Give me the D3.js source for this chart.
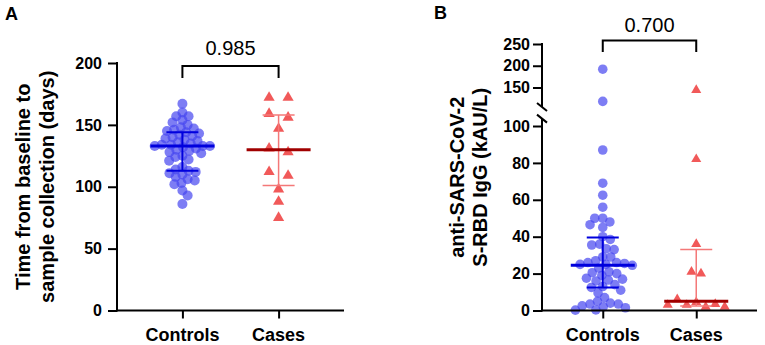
<!DOCTYPE html>
<html>
<head>
<meta charset="utf-8">
<script src="https://cdn.jsdelivr.net/npm/d3@7/dist/d3.min.js"></script>
<style>
  body { margin: 0; background: #fff; }
  text { font-family: Arial, "Liberation Sans", sans-serif; }
</style>
</head>
<body>
<svg id="chart" width="765" height="345"></svg>
<script>
// groups shared by both panels
const groups = ["Controls", "Cases"];

// panel A : time from baseline to sample collection (days)
const timeControls = [167, 160, 157, 157, 154, 152, 150, 148, 147, 146, 145, 144, 143, 142, 141,
    140, 139, 138, 137, 136, 135, 134, 134, 133, 133, 133, 132, 131, 130, 129, 128, 127, 125,
    124, 122, 121, 116, 114, 113, 112, 111, 110, 108, 106, 105, 103, 102, 97, 93, 86];
const timeCases = [172, 172, 159, 156, 147, 131, 128, 112, 109, 98, 88, 75];
const timeMedian = [133, 130];
const timeQ1 = [113, 101];
const timeQ3 = [144, 158];
const timeTicks = [0, 50, 100, 150, 200];

// panel B : anti-SARS-CoV-2 S-RBD IgG (kAU/L)
const iggControls = [192, 118, 87, 69, 62.5, 56, 50, 50, 48, 46.5, 45, 40, 38.5, 36, 35.5,
    33.5, 33, 29, 29, 27, 26, 26, 25.5, 25, 25, 24.5, 23, 21, 20.5, 20, 19, 17.5, 17, 16.5,
    16, 14, 13, 12.5, 11, 9.5, 7, 5, 4, 3.5, 3.5, 2.5, 2, 1.5, 0.3, 0.2];
const iggCases = [144, 82, 36, 21, 20, 3, 6, 3, 4.5, 2, 3.5, 2];
const iggMedian = [24.5, 5];
const iggQ1 = [12.5, 2.5];
const iggQ3 = [39.5, 33];
const iggTicksLow = [0, 20, 40, 60, 80, 100];
const iggTicksHigh = [150, 200, 250];

const pValues = ["0.985", "0.700"];

const svg = d3.select("#chart");
const fontBold = "bold";
const ctrlFill = "#4646ef", caseFill = "#ee3030";
const ctrlLine = "#0000dd", caseMedLine = "#a00000", caseBar = "#f47878";

// simple beeswarm : returns x offsets for pixel y positions
function swarm(ys, gap) {
    const order = d3.range(ys.length).sort((a, b) => ys[a] - ys[b]);
    const placed = [];
    const off = new Array(ys.length);
    order.forEach((i, n) => {
        const y = ys[i];
        const near = placed.filter(p => Math.abs(p.y - y) < gap);
        let cand = [0];
        near.forEach(p => {
            const dx = Math.sqrt(gap * gap - (p.y - y) ** 2);
            cand.push(p.x + dx, p.x - dx);
        });
        const sgn = n % 2 ? 1 : -1;
        cand.sort((a, b) => (Math.abs(a) - Math.abs(b)) || (sgn * (a - b)));
        const x = cand.find(c => near.every(p => (p.x - c) ** 2 + (p.y - y) ** 2 >= gap * gap - 0.01));
        off[i] = x;
        placed.push({ x: x, y: y });
    });
    return off;
}

// rows : points close in y are put side by side, centred
function rows(ys, h, step) {
    const off = new Array(ys.length).fill(0);
    const used = new Array(ys.length).fill(false);
    ys.forEach((y, i) => {
        if (used[i]) return;
        const row = [];
        ys.forEach((y2, j) => { if (!used[j] && Math.abs(y2 - y) <= h) row.push(j); });
        row.forEach((j, k) => { used[j] = true; off[j] = (k - (row.length - 1) / 2) * step; });
    });
    return off;
}

function drawSummary(g, x, y, med, q1, q3) {
    groups.forEach((grp, i) => {
        const cx = x(grp);
        const bar = i == 0 ? ctrlLine : caseBar;
        g.append("line").attr("x1", cx).attr("x2", cx).attr("y1", y(q1[i])).attr("y2", y(q3[i]))
            .attr("stroke", bar).attr("stroke-width", i == 0 ? 2 : 1.5);
        [q1[i], q3[i]].forEach(v => {
            g.append("line").attr("x1", cx - 16).attr("x2", cx + 16).attr("y1", y(v)).attr("y2", y(v))
                .attr("stroke", bar).attr("stroke-width", i == 0 ? 2 : 1.5);
        });
        g.append("line").attr("x1", cx - 32).attr("x2", cx + 32).attr("y1", y(med[i])).attr("y2", y(med[i]))
            .attr("stroke", i == 0 ? ctrlLine : caseMedLine).attr("stroke-width", 3);
    });
}

function drawPoints(g, x, y, ctrl, cases, rC, gap, triSize, caseStep) {
    const yc = ctrl.map(y);
    const xc = swarm(yc, gap);
    g.selectAll("circle").data(ctrl).enter().append("circle")
        .attr("cx", (d, i) => x("Controls") + xc[i])
        .attr("cy", (d, i) => yc[i])
        .attr("r", rC)
        .attr("fill", ctrlFill)
        .attr("fill-opacity", 0.7);
    const yk = cases.map(y);
    const xk = rows(yk, 8, caseStep);
    g.selectAll("path.tri").data(cases).enter().append("path")
        .attr("class", "tri")
        .attr("d", d3.symbol().type(d3.symbolTriangle).size(triSize))
        .attr("transform", (d, i) => `translate(${x("Cases") + xk[i]},${yk[i]})`)
        .attr("fill", caseFill)
        .attr("fill-opacity", 0.8);
}

function styleAxis(g) {
    g.select(".domain").remove();
    g.selectAll(".tick line").attr("stroke", "#000").attr("stroke-width", 2);
    g.selectAll(".tick text").attr("fill", "#000").style("font-size", "16px").style("font-weight", fontBold)
        .style("font-family", "Arial, 'Liberation Sans', sans-serif");
}

function bracket(x1, x2, yTop, yBot, label, yText) {
    svg.append("path")
        .attr("d", `M${x1},${yBot}V${yTop}H${x2}V${yBot}`)
        .attr("fill", "none").attr("stroke", "#000").attr("stroke-width", 2);
    svg.append("text").attr("x", (x1 + x2) / 2).attr("y", yText).attr("text-anchor", "middle")
        .style("font-size", "20px").text(label);
}

// ---------- Panel A ----------
const xA = d3.scalePoint().domain(groups).range([117, 344]).padding(0.68);
const yA = d3.scaleLinear().domain([0, 200]).range([310.5, 63]);

svg.append("text").attr("x", 5).attr("y", 20).style("font-size", "18px").style("font-weight", fontBold).text("A");

const gA = svg.append("g");
drawPoints(gA, xA, yA, timeControls, timeCases, 5, 7.2, 54, 19);
drawSummary(gA, xA, yA, timeMedian, timeQ1, timeQ3);

svg.append("g").attr("transform", "translate(117,0)")
    .call(d3.axisLeft(yA).tickValues(timeTicks).tickSize(9).tickPadding(6))
    .call(styleAxis);
svg.append("g").attr("transform", "translate(0,310.5)")
    .call(d3.axisBottom(xA).tickSize(8).tickPadding(4).tickFormat(() => ""))
    .call(styleAxis);
svg.append("line").attr("x1", 117).attr("x2", 117).attr("y1", yA(200) - 1).attr("y2", yA(0) + 1)
    .attr("stroke", "#000").attr("stroke-width", 2);
svg.append("line").attr("x1", 116).attr("x2", 344).attr("y1", yA(0)).attr("y2", yA(0))
    .attr("stroke", "#000").attr("stroke-width", 2);

groups.forEach(g => {
    svg.append("text").attr("x", xA(g)).attr("y", 341).attr("text-anchor", "middle")
        .style("font-size", "18px").style("font-weight", fontBold).text(g);
});

[["Time from baseline to", 29.5], ["sample collection (days)", 53.5]].forEach(([t, bx]) => {
    svg.append("text").attr("transform", `translate(${bx},${(yA(0) + yA(200)) / 2}) rotate(-90)`)
        .attr("text-anchor", "middle").style("font-size", "20px").style("font-weight", fontBold).text(t);
});

bracket(xA("Controls"), xA("Cases"), 66, 78, pValues[0], 55);

// ---------- Panel B ----------
const xB = d3.scalePoint().domain(groups).range([542, 757]).padding(0.65);
const yLow = d3.scaleLinear().domain([0, 100]).range([310.5, 126]);
const yHigh = d3.scaleLinear().domain([150, 250]).range([87.5, 44]);
const breakAt = 104;
const yB = v => v > breakAt ? yHigh(v) : yLow(v);

svg.append("text").attr("x", 434).attr("y", 19).style("font-size", "18px").style("font-weight", fontBold).text("B");

const gB = svg.append("g");
drawPoints(gB, xB, yB, iggControls, iggCases, 4.8, 8, 44, 9.5);
drawSummary(gB, xB, yLow, iggMedian, iggQ1, iggQ3);

svg.append("g").attr("transform", "translate(542,0)")
    .call(d3.axisLeft(yLow).tickValues(iggTicksLow).tickSize(9).tickPadding(3))
    .call(styleAxis);
svg.append("g").attr("transform", "translate(542,0)")
    .call(d3.axisLeft(yHigh).tickValues(iggTicksHigh).tickSize(9).tickPadding(3))
    .call(styleAxis);
svg.append("g").attr("transform", "translate(0,310.5)")
    .call(d3.axisBottom(xB).tickSize(8).tickFormat(() => ""))
    .call(styleAxis);

// y axis in two segments with break marks
svg.append("line").attr("x1", 542).attr("x2", 542).attr("y1", yHigh(250) - 1).attr("y2", yHigh(105))
    .attr("stroke", "#000").attr("stroke-width", 2);
svg.append("line").attr("x1", 542).attr("x2", 542).attr("y1", yLow(breakAt)).attr("y2", yLow(0) + 1)
    .attr("stroke", "#000").attr("stroke-width", 2);
[yHigh(105), yLow(breakAt)].forEach(yy => {
    svg.append("line").attr("x1", 537).attr("x2", 547).attr("y1", yy - 4).attr("y2", yy + 4)
        .attr("stroke", "#000").attr("stroke-width", 2);
});
svg.append("line").attr("x1", 541).attr("x2", 757).attr("y1", yLow(0)).attr("y2", yLow(0))
    .attr("stroke", "#000").attr("stroke-width", 2);

groups.forEach(g => {
    svg.append("text").attr("x", xB(g)).attr("y", 341).attr("text-anchor", "middle")
        .style("font-size", "18px").style("font-weight", fontBold).text(g);
});

[["anti-SARS-CoV-2", 464], ["S-RBD IgG (kAU/L)", 487]].forEach(([t, bx]) => {
    svg.append("text").attr("transform", `translate(${bx},${(yLow(0) + yHigh(250)) / 2}) rotate(-90)`)
        .attr("text-anchor", "middle").style("font-size", "20px").style("font-weight", fontBold).text(t);
});

bracket(xB("Controls"), xB("Cases"), 40.5, 52, pValues[1], 31.5);
</script>
</body>
</html>
